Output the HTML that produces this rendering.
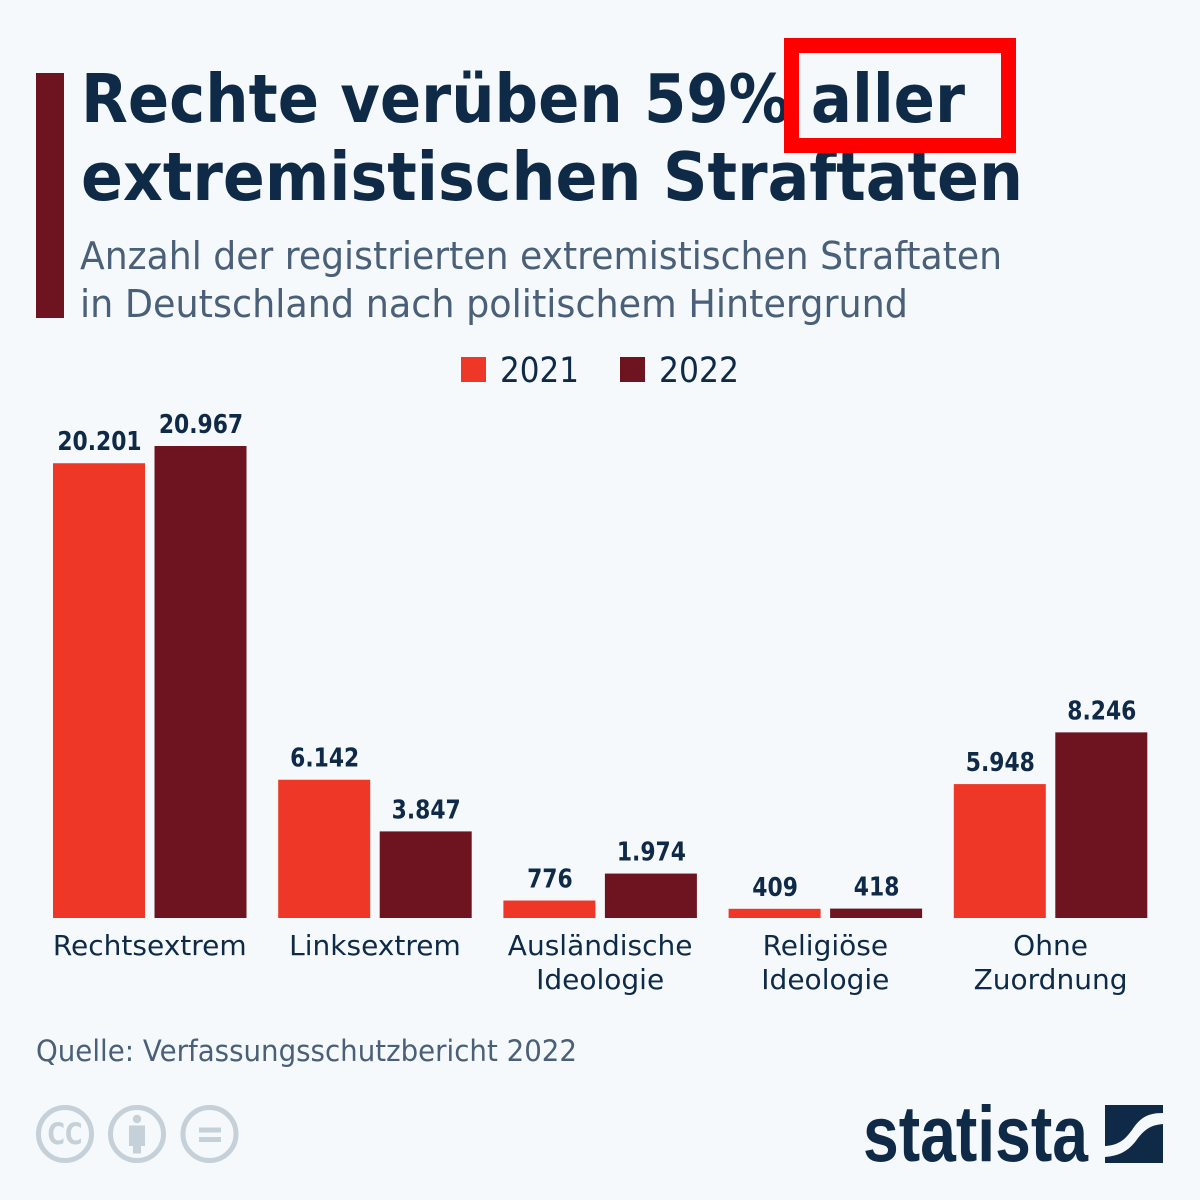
<!DOCTYPE html>
<html lang="de">
<head>
<meta charset="utf-8">
<title>Rechte verüben 59% aller extremistischen Straftaten</title>
<style>
html,body{margin:0;padding:0;background:#f5f9fc}
svg{display:block}
text{font-family:"DejaVu Sans","Liberation Sans",sans-serif}
</style>
</head>
<body>
<svg id="chart" xmlns="http://www.w3.org/2000/svg" width="1200" height="1200" viewBox="0 0 1200 1200">
<rect width="1200" height="1200" fill="#f5f9fc"/>
<rect x="36" y="73" width="28" height="245" fill="#6e1420"/>
<text x="81" y="122" font-size="67" font-weight="700" fill="#0f2a47" textLength="884" lengthAdjust="spacingAndGlyphs">Rechte verüben 59% aller</text>
<text x="81" y="200" font-size="67" font-weight="700" fill="#0f2a47" textLength="942" lengthAdjust="spacingAndGlyphs">extremistischen Straftaten</text>
<path fill="#ff0000" fill-rule="evenodd" d="M784 38H1016V153H784ZM799 53V138H1001V53Z"/>
<text x="80" y="269" font-size="38" fill="#4a6078" textLength="922" lengthAdjust="spacingAndGlyphs">Anzahl der registrierten extremistischen Straftaten</text>
<text x="80" y="317" font-size="38" fill="#4a6078" textLength="828" lengthAdjust="spacingAndGlyphs">in Deutschland nach politischem Hintergrund</text>

<g>
<rect x="461" y="357" width="25" height="25" fill="#ee3726"/>
<text x="500" y="382" font-size="35" fill="#0f2a47" textLength="79" lengthAdjust="spacingAndGlyphs">2021</text>
<rect x="620" y="357" width="25" height="25" fill="#6e1420"/>
<text x="659" y="382" font-size="35" fill="#0f2a47" textLength="80" lengthAdjust="spacingAndGlyphs">2022</text>
</g>

<g id="plot"></g>

<text x="36" y="1061" font-size="29" fill="#4a6078" textLength="541" lengthAdjust="spacingAndGlyphs">Quelle: Verfassungsschutzbericht 2022</text>

<g>
<g>
<circle cx="65" cy="1134" r="26.5" fill="none" stroke="#c5d0d8" stroke-width="5"/>
<text x="65" y="1144" font-size="29" font-weight="700" fill="#c5d0d8" text-anchor="middle" textLength="35" lengthAdjust="spacingAndGlyphs">CC</text>
</g>
<g>
<circle cx="137" cy="1134" r="26.5" fill="none" stroke="#c5d0d8" stroke-width="5"/>
<circle cx="137" cy="1119" r="4.2" fill="#c5d0d8"/>
<path d="M129 1125.500H145V1146H141V1153.500H133V1146H129Z" fill="#c5d0d8"/>
</g>
<g>
<circle cx="209.500" cy="1134" r="26.500" fill="none" stroke="#c5d0d8" stroke-width="5"/>
<rect x="199" y="1127.500" width="22" height="5" fill="#c5d0d8"/>
<rect x="199" y="1137" width="22" height="5" fill="#c5d0d8"/>
</g>
</g>

<g>
<text x="863" y="1161" font-size="79" font-weight="700" fill="#0f2a47" textLength="225" lengthAdjust="spacingAndGlyphs" style="font-family:'Liberation Sans',sans-serif">statista</text>
<path fill="#0f2a47" d="M1105 1105H1163V1113C1147 1113 1140 1118 1132 1130C1124 1141 1118 1145 1105 1146Z"/>
<path fill="#0f2a47" d="M1163 1124V1163H1105V1157C1120 1156 1130 1150 1138 1138C1146 1128 1152 1125 1163 1124Z"/>
</g>
</svg>

<script>
const categories = [["Rechtsextrem"], ["Linksextrem"], ["Ausländische", "Ideologie"], ["Religiöse", "Ideologie"], ["Ohne", "Zuordnung"]];
const series2021 = [20201, 6142, 776, 409, 5948];
const series2022 = [20967, 3847, 1974, 418, 8246];

const NS = 'http://www.w3.org/2000/svg';
const plot = document.getElementById('plot');
const baseY = 918, plotTop = 446, maxValue = 20967;
const firstX = 53, groupStep = 225.2, barW = 92, barGap = 9.5;
const yScale = v => baseY - v / maxValue * (baseY - plotTop);
const xScale = (g, s) => firstX + g * groupStep + s * (barW + barGap);
const fmt = v => String(v).replace(/\B(?=(\d{3})+$)/g, '.');

function makeText(str, x, y, size, weight, ratio) {
  const t = document.createElementNS(NS, 'text');
  t.textContent = str;
  t.setAttribute('x', x);
  t.setAttribute('y', y);
  t.setAttribute('font-size', size);
  t.setAttribute('font-weight', weight);
  t.setAttribute('fill', '#0f2a47');
  t.setAttribute('text-anchor', 'middle');
  plot.appendChild(t);
  t.setAttribute('textLength', (t.getComputedTextLength() * ratio).toFixed(1));
  t.setAttribute('lengthAdjust', 'spacingAndGlyphs');
  return t;
}

[series2021, series2022].forEach((values, s) => {
  values.forEach((v, g) => {
    const x = xScale(g, s), y = yScale(v);
    const r = document.createElementNS(NS, 'rect');
    
    
    r.setAttribute('x', x);
    r.setAttribute('y', y);
    r.setAttribute('width', barW);
    r.setAttribute('height', baseY - y);
    r.setAttribute('fill', s === 0 ? '#ee3726' : '#6e1420');
    plot.appendChild(r);
    const label = makeText(fmt(v), x + barW / 2 + 0.5, y - 13, 26, 700, 0.84);
    
    
  });
});

categories.forEach((lines, g) => {
  const cx = xScale(g, 0) + barW + barGap / 2;
  lines.forEach((line, i) => {
    const t = makeText(line, cx, 955 + i * 34, 28, 400, 1);
    
    
  });
});
</script>
</body>
</html>
